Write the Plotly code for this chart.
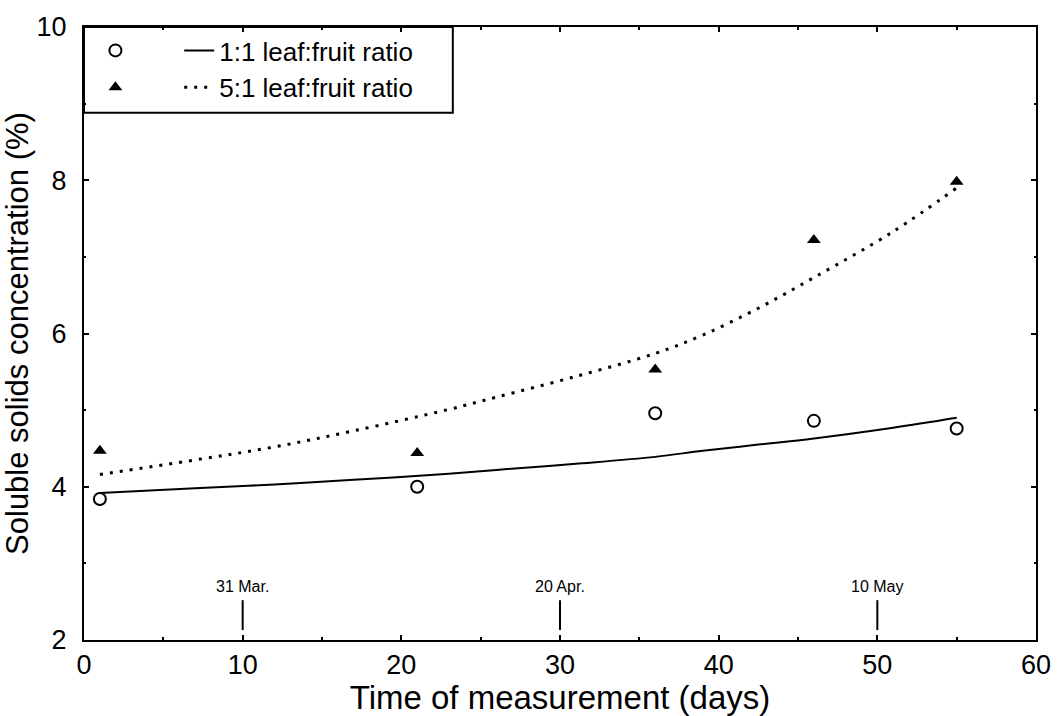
import plotly.graph_objects as go

# Measured data
days = [1, 21, 36, 46, 55]
ssc_1to1 = [3.84, 4.00, 4.96, 4.86, 4.76]
ssc_5to1 = [4.47, 4.44, 5.53, 7.22, 7.98]

# Fitted curves
fit_days = [1, 7, 12, 17, 23, 26, 31, 36, 39, 42.5, 46, 51, 55]
fit_1to1 = [3.92, 3.98, 4.03, 4.09, 4.17, 4.22, 4.30, 4.39, 4.47, 4.55, 4.63, 4.77, 4.90]
fit_5to1 = [4.16, 4.35, 4.52, 4.73, 5.01, 5.17, 5.44, 5.74, 5.98, 6.33, 6.73, 7.33, 7.90]

names = ["1:1 leaf:fruit ratio", "5:1 leaf:fruit ratio"]

date_days = [10, 30, 50]
date_labels = ["31 Mar.", "20 Apr.", "10 May"]

x_ticks = [0, 10, 20, 30, 40, 50, 60]
y_ticks = [2, 4, 6, 8, 10]

FONT = "Liberation Sans, Arial, Helvetica, sans-serif"

fig = go.Figure()

fig.add_trace(go.Scatter(
    x=days, y=ssc_1to1, mode="markers", name="\u00a0", legend="legend",
    marker=dict(symbol="circle-open", size=12, color="black", line=dict(width=2, color="black")),
))
fig.add_trace(go.Scatter(
    x=days, y=ssc_5to1, mode="markers", name="\u00a0\u00a0", legend="legend",
    marker=dict(symbol="triangle-up", size=12, color="black"),
))
fig.add_trace(go.Scatter(
    x=fit_days, y=fit_1to1, mode="lines", name=names[0], legend="legend2",
    line=dict(color="black", width=2, shape="spline"),
))
fig.add_trace(go.Scatter(
    x=fit_days, y=fit_5to1, mode="lines", name=names[1], legend="legend2",
    line=dict(color="black", width=3, dash="3px,7px", shape="spline"),
))

# date markers
for d, lab in zip(date_days, date_labels):
    fig.add_shape(type="line", xref="x", yref="y", x0=d, x1=d, y0=2.13, y1=2.52,
                  line=dict(color="black", width=2))
    fig.add_annotation(x=d, y=2.56, xref="x", yref="y", text=lab, showarrow=False,
                       yanchor="bottom", font=dict(size=16, family=FONT, color="black"))

# legend box
fig.add_shape(type="rect", xref="paper", yref="paper", x0=0, x1=0.3874, y0=0.86, y1=1,
              line=dict(color="black", width=2), fillcolor="white", layer="below")

axis_common = dict(
    showline=True, linecolor="black", linewidth=2, mirror="ticks",
    ticks="inside", ticklen=5, tickwidth=2, tickcolor="black",
    showgrid=False, zeroline=False,
    tickfont=dict(size=27, family=FONT, color="black"),
)

fig.update_layout(
    width=1063, height=716,
    margin=dict(l=84, r=24, t=20, b=75),
    paper_bgcolor="white", plot_bgcolor="white",
    font=dict(family=FONT, color="black"),
    xaxis=dict(range=[0, 60], tickvals=x_ticks, ticktext=[str(v) for v in x_ticks],
               minor=dict(dtick=5, ticks="inside", ticklen=3, tickwidth=1.5, tickcolor="black"),
               title=dict(text="Time of measurement (days)", font=dict(size=33, family=FONT), standoff=0),
               **axis_common),
    yaxis=dict(range=[2, 10], tickvals=y_ticks, ticktext=[str(v) for v in y_ticks],
               minor=dict(dtick=1, ticks="inside", ticklen=2, tickwidth=1.5, tickcolor="black"),
               title=dict(text="Soluble solids concentration (%)", font=dict(size=31, family=FONT), standoff=2),
               ticklabelstandoff=10,
               **axis_common),
    legend=dict(x=0.012, y=1.0, xanchor="left", yanchor="top", bgcolor="rgba(0,0,0,0)",
                font=dict(size=26, family=FONT), itemwidth=30, tracegroupgap=0),
    legend2=dict(x=0.100, y=1.0, xanchor="left", yanchor="top", bgcolor="rgba(0,0,0,0)",
                 font=dict(size=26, family=FONT), itemwidth=30, tracegroupgap=0),
    showlegend=True,
)

fig.write_html("out.html")
